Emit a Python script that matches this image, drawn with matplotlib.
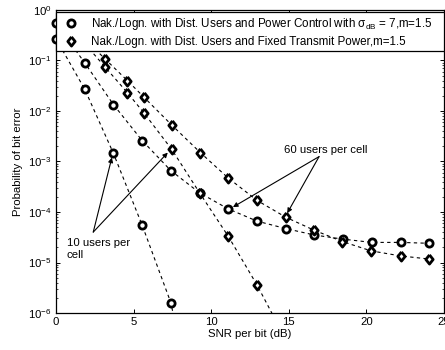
import numpy as np
import matplotlib
matplotlib.use("Agg")
import matplotlib.pyplot as plt
from matplotlib.lines import Line2D

plt.rcParams['font.family'] = ['Liberation Sans', 'DejaVu Sans']
plt.rcParams['mathtext.fontset'] = 'custom'
plt.rcParams['mathtext.rm'] = 'Liberation Sans'
plt.rcParams['mathtext.it'] = 'Liberation Sans'

# SNR per bit (dB)
snr_pc = [0, 1.85, 3.7, 5.55, 7.4, 9.25, 11.1, 12.95, 14.8, 16.65, 18.5, 20.35, 22.2, 24.05]
snr_pc10 = [0, 1.85, 3.7, 5.55, 7.4, 9.25]
snr_fx = [1.3, 3.15, 4.6, 5.65, 7.45, 9.3, 11.1, 12.95, 14.8, 16.6, 18.45, 20.3, 22.2, 24.05]
snr_fx10 = [1.3, 3.15, 4.6, 5.65, 7.45, 9.25, 11.1, 12.95, 14.8]

# probability of bit error
pc_60 = [0.55, 0.09, 1.34e-2, 2.6e-3, 6.6e-4, 2.4e-4, 1.15e-4, 6.6e-5, 4.7e-5,
         3.5e-5, 2.9e-5, 2.5e-5, 2.5e-5, 2.4e-5]
pc_10 = [0.27, 2.7e-2, 1.45e-3, 5.5e-5, 1.6e-6, 3e-9]
fx_60 = [0.4, 0.108, 0.04, 1.9e-2, 5.3e-3, 1.5e-3, 4.7e-4, 1.7e-4, 7.9e-5,
         4.4e-5, 2.6e-5, 1.7e-5, 1.35e-5, 1.17e-5]
fx_10 = [0.34, 0.075, 0.023, 9.3e-3, 1.75e-3, 2.4e-4, 3.3e-5, 3.6e-6, 3e-7]

leg_labels = [r'Nak./Logn. with Dist. Users and Power Control with $\sigma_{dB}$ = 7,m=1.5',
              'Nak./Logn. with Dist. Users and Fixed Transmit Power,m=1.5']

fs = 8.2
# MATLAB-like diamond, a bit wider than matplotlib's 'd'
diamond = [(0, 1), (0.8, 0), (0, -1), (-0.8, 0), (0, 1)]

fig = plt.figure(figsize=(4.45, 3.5), dpi=100)
ax = fig.add_axes([56 / 445, 1 - 313 / 350, 388 / 445, 303 / 350])

ymin = 1e-6
series = [(snr_pc, pc_60, 'o'), (snr_pc10, pc_10, 'o'),
          (snr_fx, fx_60, diamond), (snr_fx10, fx_10, diamond)]
for x, y, m in series:
    x = np.array(x)
    y = np.array(y)
    ax.plot(x, y, color='k', lw=0.8, ls=(0, (3, 3)))
    # markers may hang over the axes edge, as in the original
    keep = y >= ymin
    ax.plot(x[keep], y[keep], ls='none', marker=m, ms=5.2 if m == 'o' else 6.6,
            mfc='white', mec='k', mew=2.0, clip_on=False, zorder=3)

ax.set_yscale('log')
ax.set_xlim(0, 25)
ax.set_ylim(1e-6, 1)
ax.set_xticks([0, 5, 10, 15, 20, 25])
ax.set_yticks([1e-6, 1e-5, 1e-4, 1e-3, 1e-2, 1e-1, 1e0])
ax.tick_params(which='both', direction='in', top=True, right=True, labelsize=fs, pad=3)
ax.tick_params(which='major', length=3, width=0.7)
ax.tick_params(which='minor', length=1.5, width=0.5)
for s in ax.spines.values():
    s.set_linewidth(0.9)

ax.set_xlabel('SNR per bit (dB)', fontsize=fs, labelpad=1)
ax.set_ylabel('Probability of bit error', fontsize=fs, labelpad=4)

# annotations
ax.text(17.35, 1.7e-3, '60 users per cell', fontsize=fs, ha='center', va='center')
arrow = dict(arrowstyle='-|>', color='k', lw=0.8, mutation_scale=7, shrinkA=0, shrinkB=0)
ax.annotate('', xy=(11.4, 1.25e-4), xytext=(16.95, 1.25e-3), arrowprops=arrow)
ax.annotate('', xy=(14.9, 9.5e-5), xytext=(16.95, 1.25e-3), arrowprops=arrow)

ax.text(0.7, 1.85e-5, '10 users per\ncell', fontsize=fs, ha='left', va='center',
        linespacing=1.2)
ax.annotate('', xy=(3.6, 1.2e-3), xytext=(2.4, 4e-5), arrowprops=arrow)
ax.annotate('', xy=(7.2, 1.5e-3), xytext=(2.4, 4e-5), arrowprops=arrow)

handles = [Line2D([], [], ls='none', marker='o', ms=5.2, mfc='white', mec='k', mew=2.0),
           Line2D([], [], ls='none', marker=diamond, ms=6.6, mfc='white', mec='k', mew=2.0)]
leg = ax.legend(handles, leg_labels, loc='upper left', bbox_to_anchor=(0, 0.993, 1, 0),
                mode='expand', borderaxespad=0, fontsize=8.4, frameon=True, fancybox=False,
                edgecolor='k', framealpha=1, handlelength=2.0, handletextpad=0.7,
                borderpad=0.3, labelspacing=0.35)
leg.get_frame().set_linewidth(0.9)
leg.set_zorder(10)

fig.savefig('out.png', dpi=100)
